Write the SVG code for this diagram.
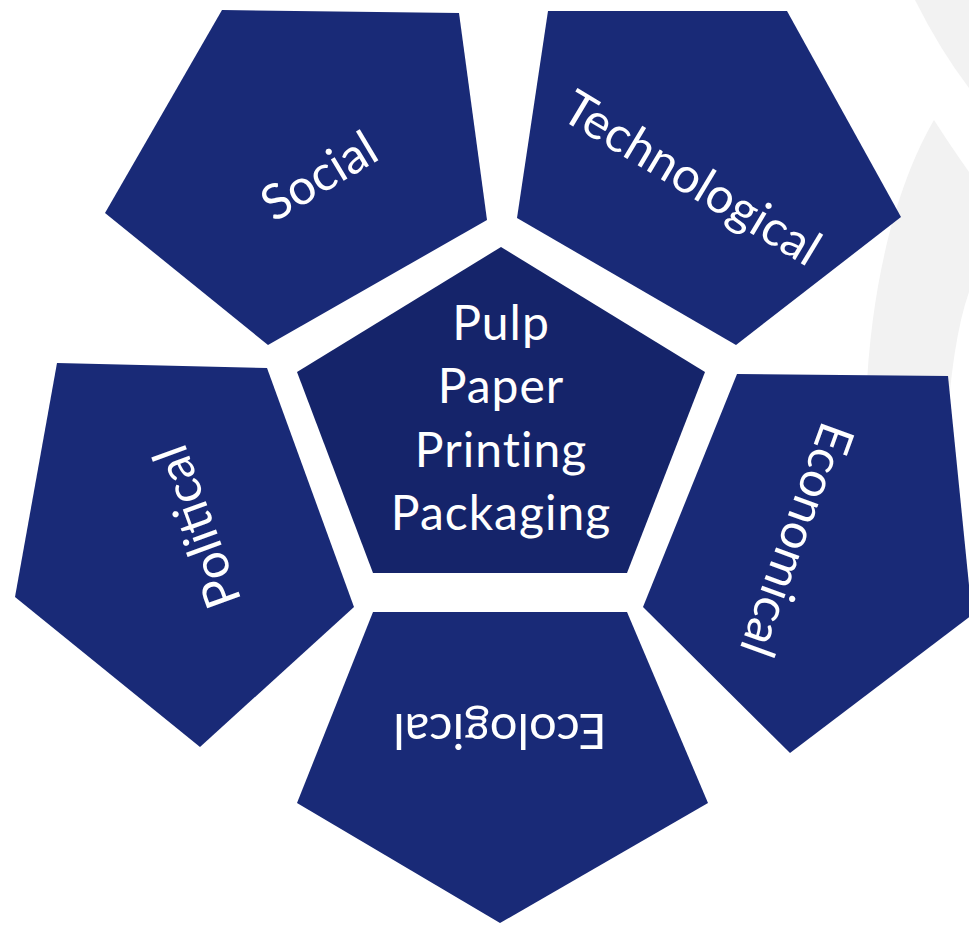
<svg xmlns="http://www.w3.org/2000/svg" width="969" height="925" viewBox="0 0 969 925">
  <style>
    .bg { fill: #f2f2f2; }
    .outer { fill: #192a77; }
    .center { fill: #15246a; }
    .lbl { fill: #ffffff; font-family: Lato, "Open Sans", "Liberation Sans", sans-serif; font-weight: 400; text-anchor: middle; }
    .olbl { font-size: 49px; }
    .clbl { font-size: 48px; letter-spacing: 1px; }
  </style>
  <rect x="0" y="0" width="969" height="925" fill="#ffffff"/>
  <g id="background">
    <path class="bg" d="M915,0 Q940,50 969,88 L969,0 Z"/>
    <path class="bg" d="M934,120 C905,170 872,260 866,400 L866,620 L940,620 L946,440 Q952,340 969,292 L969,172 Q950,145 934,120 Z"/>
  </g>
  <g id="connectors"></g>
  <g id="social">
    <polygon class="outer" points="222,10 459,13 487,220 268,345 105,213"/>
    <text class="lbl olbl" transform="translate(319,176) rotate(-31)" x="0" y="17">Social</text>
  </g>
  <g id="technological">
    <polygon class="outer" points="548,11 787,11 901,217 736,345 517,218"/>
    <text class="lbl olbl" transform="translate(692,178) rotate(31)" x="0" y="17">Technological</text>
  </g>
  <g id="political">
    <polygon class="outer" points="57,363 267,368 354,607 200,747 15,597"/>
    <text class="lbl olbl" transform="translate(197,527) rotate(-110)" x="0" y="17">Political</text>
  </g>
  <g id="economical">
    <polygon class="outer" points="737,374 948,376 972,615 790,753 643,607"/>
    <text class="lbl olbl" transform="translate(797,540) rotate(110)" x="0" y="17">Economical</text>
  </g>
  <g id="ecological">
    <polygon class="outer" points="373,612 627,612 708,803 500,923 297,803"/>
    <text class="lbl olbl" transform="translate(500,731) rotate(180)" x="0" y="17">Ecological</text>
  </g>
  <g id="center">
    <polygon class="center" points="501,247 705,372 627,573 373,573 297,372"/>
    <text class="lbl clbl" x="501" y="340">Pulp</text>
    <text class="lbl clbl" x="501" y="403">Paper</text>
    <text class="lbl clbl" x="501" y="467">Printing</text>
    <text class="lbl clbl" x="501" y="530">Packaging</text>
  </g>
</svg>
